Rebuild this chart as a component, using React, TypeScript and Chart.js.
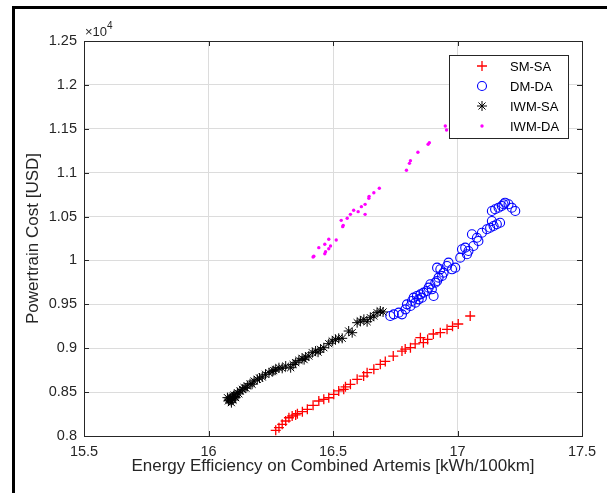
import React, { useEffect, useRef } from "react";
import { Chart, registerables } from "chart.js";

Chart.register(...registerables);

// ---------- data ----------
const xTickValues = [15.5, 16, 16.5, 17, 17.5];
const yTickValues = [8000, 8500, 9000, 9500, 10000, 10500, 11000, 11500, 12000, 12500];
const xAxisTitle = "Energy Efficiency on Combined Artemis [kWh/100km]";
const yAxisTitle = "Powertrain Cost [USD]";
const seriesNames = ["SM-SA", "DM-DA", "IWM-SA", "IWM-DA"];

const smsaX = [16.270, 16.283, 16.296, 16.310, 16.323, 16.336, 16.350, 16.357, 16.377, 16.397, 16.420, 16.443, 16.463, 16.483, 16.503, 16.523, 16.543, 16.550, 16.570, 16.597, 16.623, 16.637, 16.664, 16.690, 16.710, 16.742, 16.777, 16.790, 16.811, 16.830, 16.851, 16.863, 16.880, 16.903, 16.931, 16.958, 16.980, 17.003, 17.051];
const smsaY = [8065, 8095, 8133, 8171, 8208, 8228, 8240, 8254, 8277, 8304, 8350, 8399, 8418, 8436, 8475, 8513, 8532, 8560, 8589, 8646, 8683, 8721, 8760, 8817, 8850, 8911, 8968, 8990, 9006, 9050, 9120, 9063, 9100, 9162, 9177, 9215, 9250, 9276, 9367];

const dmdaX = [16.730, 16.744, 16.764, 16.777, 16.791, 16.797, 16.811, 16.817, 16.824, 16.831, 16.837, 16.844, 16.851, 16.857, 16.864, 16.877, 16.884, 16.891, 16.897, 16.904, 16.911, 16.918, 16.924, 16.938, 16.944, 16.958, 16.964, 16.918, 16.931, 16.978, 16.991, 17.011, 17.018, 17.031, 17.038, 17.044, 17.064, 17.058, 17.078, 17.084, 17.098, 17.118, 17.131, 17.138, 17.145, 17.158, 17.171, 17.138, 17.151, 17.165, 17.178, 17.185, 17.191, 17.205, 17.218, 17.232];
const dmdaY = [9367, 9386, 9405, 9386, 9443, 9500, 9481, 9538, 9576, 9519, 9595, 9557, 9614, 9576, 9633, 9652, 9690, 9728, 9671, 9595, 9747, 9766, 9804, 9823, 9861, 9937, 9975, 9918, 9899, 9899, 9918, 10032, 10127, 10146, 10070, 10108, 10165, 10298, 10259, 10221, 10316, 10355, 10373, 10449, 10392, 10412, 10430, 10563, 10583, 10601, 10620, 10640, 10658, 10640, 10601, 10563];

const iwmsaX = [16.076, 16.080, 16.082, 16.087, 16.090, 16.092, 16.096, 16.098, 16.100, 16.103, 16.106, 16.109, 16.116, 16.122, 16.127, 16.136, 16.143, 16.150, 16.156, 16.167, 16.175, 16.183, 16.196, 16.205, 16.216, 16.229, 16.243, 16.256, 16.262, 16.270, 16.283, 16.296, 16.310, 16.330, 16.340, 16.350, 16.363, 16.376, 16.384, 16.390, 16.403, 16.417, 16.430, 16.440, 16.450, 16.463, 16.483, 16.497, 16.510, 16.523, 16.537, 16.563, 16.577, 16.597, 16.610, 16.624, 16.637, 16.650, 16.664, 16.677, 16.690, 16.701];
const iwmsaY = [8437, 8400, 8420, 8406, 8430, 8380, 8444, 8410, 8455, 8467, 8450, 8437, 8494, 8480, 8513, 8532, 8551, 8545, 8570, 8596, 8590, 8627, 8646, 8660, 8672, 8703, 8721, 8733, 8745, 8759, 8778, 8771, 8797, 8778, 8815, 8835, 8862, 8885, 8870, 8900, 8911, 8949, 8968, 8955, 8987, 9006, 9052, 9082, 9101, 9113, 9113, 9196, 9177, 9291, 9310, 9329, 9302, 9348, 9367, 9405, 9424, 9413];

const iwmdaX = [16.420, 16.423, 16.443, 16.467, 16.467, 16.470, 16.483, 16.483, 16.490, 16.513, 16.533, 16.539, 16.541, 16.557, 16.570, 16.583, 16.601, 16.614, 16.629, 16.629, 16.644, 16.645, 16.664, 16.686, 16.795, 16.807, 16.811, 16.841, 16.882, 16.887, 16.951, 16.956];
const iwmdaY = [10039, 10047, 10146, 10184, 10077, 10100, 10241, 10134, 10164, 10233, 10457, 10385, 10400, 10480, 10525, 10571, 10556, 10613, 10639, 10525, 10708, 10730, 10772, 10822, 11027, 11106, 11137, 11232, 11323, 11342, 11532, 11486];

const FONT = "'Liberation Sans', Arial, Helvetica, sans-serif";
const AXIS_COLOR = "#262626";
const GRID_COLOR = "#dcdcdc";

const toPoints = (xs: number[], ys: number[]) => xs.map((x, i) => ({ x, y: ys[i] }));

function drawMarker(ctx: CanvasRenderingContext2D, kind: number, x: number, y: number) {
  ctx.save();
  if (kind === 0) {
    ctx.strokeStyle = "#ff0000";
    ctx.lineWidth = 1.3;
    ctx.beginPath();
    ctx.moveTo(x - 5, y); ctx.lineTo(x + 5, y);
    ctx.moveTo(x, y - 5); ctx.lineTo(x, y + 5);
    ctx.stroke();
  } else if (kind === 1) {
    ctx.strokeStyle = "#0000ff";
    ctx.lineWidth = 1.1;
    ctx.beginPath();
    ctx.arc(x, y, 4.5, 0, Math.PI * 2);
    ctx.stroke();
  } else if (kind === 2) {
    ctx.strokeStyle = "#000000";
    ctx.lineWidth = 1;
    ctx.beginPath();
    const r = 5;
    for (let k = 0; k < 4; k++) {
      const a = (k * Math.PI) / 4;
      ctx.moveTo(x - r * Math.cos(a), y - r * Math.sin(a));
      ctx.lineTo(x + r * Math.cos(a), y + r * Math.sin(a));
    }
    ctx.stroke();
  } else {
    ctx.fillStyle = "#ff00ff";
    ctx.beginPath();
    ctx.arc(x, y, 1.7, 0, Math.PI * 2);
    ctx.fill();
  }
  ctx.restore();
}

const decorPlugin = {
  id: "decor",
  beforeDraw(chart: any) {
    const ctx = chart.ctx as CanvasRenderingContext2D;
    ctx.save();
    ctx.fillStyle = "#ffffff";
    ctx.fillRect(0, 0, chart.width, chart.height);
    ctx.fillStyle = "#000000";
    ctx.fillRect(12, 6, 3, chart.height - 6);
    ctx.fillRect(12, 6, chart.width - 12, 3);
    ctx.restore();
  },
  afterDraw(chart: any) {
    const ctx = chart.ctx as CanvasRenderingContext2D;
    const { left, right, top, bottom } = chart.chartArea;
    const xs = chart.scales.x;
    const ys = chart.scales.y;
    ctx.save();
    ctx.strokeStyle = AXIS_COLOR;
    ctx.lineWidth = 1;
    ctx.strokeRect(Math.round(left) + 0.5, Math.round(top) + 0.5, Math.round(right - left), Math.round(bottom - top));
    ctx.beginPath();
    const tl = 5;
    xTickValues.forEach((v) => {
      const px = Math.round(xs.getPixelForValue(v)) + 0.5;
      ctx.moveTo(px, bottom); ctx.lineTo(px, bottom - tl);
      ctx.moveTo(px, top); ctx.lineTo(px, top + tl);
    });
    yTickValues.forEach((v) => {
      const py = Math.round(ys.getPixelForValue(v)) + 0.5;
      ctx.moveTo(left, py); ctx.lineTo(left + tl, py);
      ctx.moveTo(right, py); ctx.lineTo(right - tl, py);
    });
    ctx.stroke();
    // exponent label
    ctx.fillStyle = AXIS_COLOR;
    ctx.textBaseline = "alphabetic";
    ctx.textAlign = "left";
    ctx.font = `13px ${FONT}`;
    const base = "\u00d710";
    ctx.fillText(base, left + 1, top - 5);
    const w = ctx.measureText(base).width;
    ctx.font = `10px ${FONT}`;
    ctx.fillText("4", left + 1 + w, top - 12);
    // legend
    const lx = 449, ly = 55, lw = 119, lh = 83;
    ctx.fillStyle = "#ffffff";
    ctx.fillRect(lx, ly, lw, lh);
    ctx.strokeStyle = AXIS_COLOR;
    ctx.lineWidth = 1;
    ctx.strokeRect(lx + 0.5, ly + 0.5, lw, lh);
    const rows = [66, 86, 106, 126];
    ctx.font = `13px ${FONT}`;
    ctx.textBaseline = "middle";
    chart.data.datasets.forEach((ds: any, i: number) => {
      drawMarker(ctx, i, 482, rows[i]);
      ctx.fillStyle = "#000000";
      ctx.fillText(ds.label, 510, rows[i] + 1);
    });
    ctx.restore();
  },
};

export default function App() {
  const ref = useRef<HTMLCanvasElement | null>(null);
  useEffect(() => {
    if (!ref.current) return;
    const chart = new Chart(ref.current, {
      type: "scatter",
      data: {
        datasets: [
          {
            label: seriesNames[0],
            data: toPoints(smsaX, smsaY),
            pointStyle: "cross",
            pointRadius: 5,
            borderColor: "#ff0000",
            backgroundColor: "#ff0000",
            pointBorderWidth: 1.3,
            order: 3,
          },
          {
            label: seriesNames[1],
            data: toPoints(dmdaX, dmdaY),
            pointStyle: "circle",
            pointRadius: 4.5,
            borderColor: "#0000ff",
            backgroundColor: "rgba(0,0,0,0)",
            pointBorderWidth: 1.1,
            order: 2,
          },
          {
            label: seriesNames[2],
            data: toPoints(iwmsaX, iwmsaY),
            pointStyle: "star",
            pointRadius: 5,
            borderColor: "#000000",
            backgroundColor: "#000000",
            pointBorderWidth: 1,
            order: 1,
          },
          {
            label: seriesNames[3],
            data: toPoints(iwmdaX, iwmdaY),
            pointStyle: "circle",
            pointRadius: 1.7,
            borderColor: "#ff00ff",
            backgroundColor: "#ff00ff",
            pointBorderWidth: 0,
            order: 0,
          },
        ],
      },
      options: {
        animation: false,
        responsive: false,
        devicePixelRatio: 1,
        layout: { padding: { top: 41, right: 25, left: 0, bottom: 0 } },
        plugins: { legend: { display: false }, tooltip: { enabled: false } },
        scales: {
          x: {
            type: "linear",
            min: 15.5,
            max: 17.5,
            afterBuildTicks: (s: any) => { s.ticks = xTickValues.map((v) => ({ value: v })); },
            afterFit: (s: any) => { s.height = 57; },
            ticks: {
              color: AXIS_COLOR,
              font: { family: FONT, size: 14.5 },
              padding: 7,
              callback: (v: any) => String(Number(v)),
            },
            grid: { color: GRID_COLOR, drawTicks: false, lineWidth: 1 },
            border: { display: false },
            title: {
              display: true,
              text: xAxisTitle,
              color: AXIS_COLOR,
              font: { family: FONT, size: 17 },
              padding: { top: 0, bottom: 16 },
            },
          },
          y: {
            type: "linear",
            min: 8000,
            max: 12500,
            afterBuildTicks: (s: any) => { s.ticks = yTickValues.map((v) => ({ value: v })); },
            afterFit: (s: any) => { s.width = 84; },
            ticks: {
              color: AXIS_COLOR,
              font: { family: FONT, size: 14.5 },
              padding: 7,
              callback: (v: any) => String(Number((Number(v) / 10000).toFixed(2))),
            },
            grid: { color: GRID_COLOR, drawTicks: false, lineWidth: 1 },
            border: { display: false },
            title: {
              display: true,
              text: yAxisTitle,
              color: AXIS_COLOR,
              font: { family: FONT, size: 17 },
              padding: { top: 23, bottom: 0 },
            },
          },
        },
      },
      plugins: [decorPlugin],
    });
    return () => chart.destroy();
  }, []);
  return (
    <div style={{ position: "fixed", left: 0, top: 0, width: 607, height: 493, background: "#fff" }}>
      <canvas ref={ref} width={607} height={493} style={{ width: 607, height: 493, display: "block" }} />
    </div>
  );
}
